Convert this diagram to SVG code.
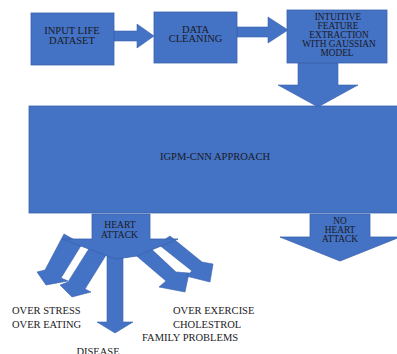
<svg xmlns="http://www.w3.org/2000/svg" width="397" height="354" viewBox="0 0 397 354">
<style>
.b{fill:#4472C4;stroke:#3a62ad;stroke-width:0.8}
.a{fill:#4472C4;stroke:#3a62ad;stroke-width:0.6}
.t{font-family:'Liberation Serif','DejaVu Serif',serif;fill:#1a1a24;font-size:10.5px}
.m{text-anchor:middle}
.s{font-size:9.3px}
.c{font-size:9.6px}
</style>
<rect width="397" height="354" fill="#ffffff"/>
<g id="connectors">
<polygon class="a" points="114,31 137,31 137,24 154,36 137,48 137,41 114,41"/>
<polygon class="a" points="237,27 268,27 268,17 288,30 268,43 268,37 237,37"/>
<polygon class="a" points="298,63 338,63 338,85 358,85 318,107 278,85 298,85"/>
<polygon class="a" points="64,234 45,270 37,272 46,285 68,281 61,278 82,244"/>
<polygon class="a" points="90,247 68,282 60,285 72,297 91,292 85,289 108,252"/>
<polygon class="a" points="107,252 123,252 123,322 133,322 115,333 97,322 107,322"/>
<polygon class="a" points="146,244 176,272 189,273 185,292 159,287 166,281 132,252"/>
<polygon class="a" points="170,236 202,262 213,264 210,282 186,276 192,271 158,244"/>
</g>
<g id="input" class="t" font-family="Liberation Serif, serif">
<rect class="b" x="31" y="13" width="83" height="52"/>
<text class="m" x="72" y="34">INPUT LIFE</text>
<text class="m" x="72" y="43.5">DATASET</text>
</g>
<g id="cleaning" class="t" font-family="Liberation Serif, serif">
<rect class="b" x="154" y="12" width="83" height="51"/>
<text class="m" x="195.5" y="32.5">DATA</text>
<text class="m" x="195.5" y="42">CLEANING</text>
</g>
<g id="feature" class="t" font-family="Liberation Serif, serif">
<rect class="b" x="287" y="10" width="100" height="53"/>
<text class="m s" x="338" y="19.5">INTUITIVE</text>
<text class="m s" x="338" y="28.5">FEATURE</text>
<text class="m s" x="339" y="37.5">EXTRACTION</text>
<text class="m s" x="339" y="46.5">WITH GAUSSIAN</text>
<text class="m s" x="337" y="56">MODEL</text>
</g>
<g id="igpm" class="t" font-family="Liberation Serif, serif">
<rect class="b" x="29" y="106" width="370" height="107"/>
<text class="m" x="215" y="160">IGPM-CNN APPROACH</text>
</g>
<g id="heart" class="t" font-family="Liberation Serif, serif">
<polygon class="b" points="92,214 150,214 150,239 178,239 137,256 116,259 105,255 62,239 92,239"/>
<text class="m c" x="120" y="228">HEART</text>
<text class="m c" x="119.5" y="237.5">ATTACK</text>
</g>
<g id="noheart" class="t" font-family="Liberation Serif, serif">
<polygon class="b" points="310,214 370,214 370,237 400,237 340,261 280,237 310,237"/>
<text class="m s" x="340" y="223.5">NO</text>
<text class="m s" x="340" y="232.5">HEART</text>
<text class="m s" x="340" y="241.5">ATTACK</text>
</g>
<g id="labels" class="t" font-family="Liberation Serif, serif">
<text x="12" y="314">OVER STRESS</text>
<text x="12" y="327.5">OVER EATING</text>
<text class="m" x="98" y="355">DISEASE</text>
<text x="173" y="313.5">OVER EXERCISE</text>
<text x="173" y="327.5">CHOLESTROL</text>
<text x="142" y="341">FAMILY PROBLEMS</text>
</g>
</svg>
